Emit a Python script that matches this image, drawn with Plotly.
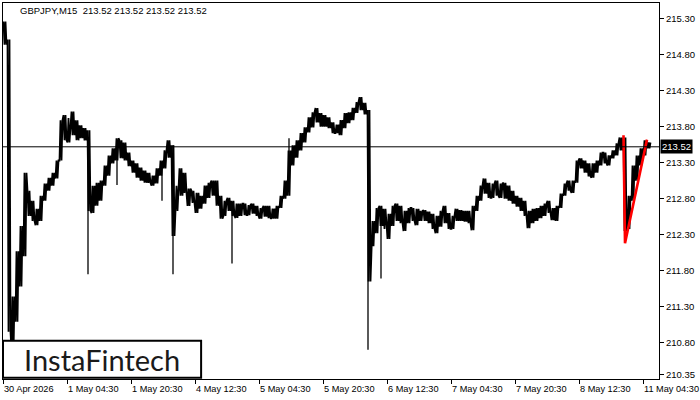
import plotly.graph_objects as go

# ---- data (hourly high/low envelope of GBPJPY M15 bars) ----
highs = [215.26, 215.01, 211.44, 212.07, 212.42, 213.16, 212.91, 212.77, 212.66, 212.84,
         213.01, 213.09, 213.16, 213.33, 213.89, 213.96, 213.92, 214.01, 213.89, 213.82,
         213.78, 213.75, 212.98, 213.02, 213.05, 213.26, 213.40, 213.50, 213.64, 213.61,
         213.58, 213.44, 213.33, 213.29, 213.23, 213.19, 213.16, 213.12, 213.22, 213.33,
         213.47, 213.61, 213.54, 212.98, 213.22, 213.16, 212.94, 212.91, 212.88, 212.84,
         212.98, 213.02, 213.05, 213.05, 212.84, 212.77, 212.81, 212.77, 212.73, 212.73,
         212.73, 212.71, 212.73, 212.70, 212.67, 212.70, 212.70, 212.66, 212.70, 212.84,
         213.05, 213.47, 213.54, 213.61, 213.71, 213.79, 213.93, 214.00, 214.06, 213.99,
         213.96, 213.93, 213.86, 213.83, 213.89, 213.99, 214.00, 214.06, 214.14, 214.21,
         214.13, 214.03, 212.49, 212.67, 212.70, 212.66, 212.59, 212.70, 212.73, 212.70,
         212.63, 212.67, 212.67, 212.66, 212.63, 212.64, 212.62, 212.59, 212.56, 212.63,
         212.70, 212.60, 212.56, 212.66, 212.64, 212.63, 212.63, 212.70, 212.84, 212.98,
         213.08, 213.02, 213.01, 213.05, 213.01, 213.02, 212.98, 212.91, 212.84, 212.81,
         212.77, 212.63, 212.66, 212.67, 212.70, 212.73, 212.77, 212.67, 212.70, 212.87,
         213.01, 213.05, 213.05, 213.33, 213.36, 213.33, 213.29, 213.29, 213.33, 213.44,
         213.44, 213.40, 213.47, 213.57, 213.65, 213.65, 212.84, 213.26, 213.40, 213.50,
         213.61, 213.58]
lows = [214.94, 210.95, 210.67, 211.09, 211.58, 212.00, 212.56, 212.49, 212.43, 212.49,
        212.77, 212.91, 212.98, 213.08, 213.33, 213.61, 213.58, 213.68, 213.61, 213.64,
        213.61, 212.63, 212.60, 212.70, 212.77, 212.98, 213.12, 213.29, 213.33, 213.36,
        213.33, 213.25, 213.16, 213.09, 213.05, 213.02, 213.02, 212.98, 213.01, 213.12,
        213.22, 213.37, 212.28, 212.63, 212.84, 212.88, 212.70, 212.74, 212.60, 212.66,
        212.73, 212.81, 212.84, 212.70, 212.52, 212.56, 212.63, 212.56, 212.53, 212.56,
        212.57, 212.57, 212.59, 212.56, 212.52, 212.55, 212.53, 212.52, 212.52, 212.67,
        212.80, 212.84, 213.26, 213.37, 213.47, 213.58, 213.72, 213.79, 213.86, 213.80,
        213.80, 213.78, 213.71, 213.71, 213.68, 213.78, 213.85, 213.89, 213.99, 214.03,
        213.97, 211.65, 212.14, 212.32, 212.42, 212.38, 212.24, 212.42, 212.49, 212.46,
        212.35, 212.46, 212.49, 212.43, 212.49, 212.49, 212.46, 212.38, 212.32, 212.41,
        212.46, 212.38, 212.38, 212.49, 212.49, 212.48, 212.46, 212.36, 212.63, 212.77,
        212.87, 212.81, 212.81, 212.84, 212.81, 212.80, 212.77, 212.73, 212.69, 212.63,
        212.56, 212.39, 212.46, 212.49, 212.53, 212.56, 212.60, 212.50, 212.49, 212.67,
        212.84, 212.91, 212.88, 213.02, 213.22, 213.16, 213.11, 213.09, 213.16, 213.26,
        213.29, 213.26, 213.36, 213.40, 213.47, 212.35, 212.38, 212.77, 213.05, 213.26,
        213.40, 213.50]

# long single-bar wicks (bar index, wick top, wick bottom)
spike_idx = [85, 114, 159, 170, 229, 286, 365, 378]
spike_top = [213.61, 213.47, 213.26, 213.54, 212.70, 213.64, 214.03, 212.63]
spike_bottom = [211.75, 212.99, 212.77, 211.75, 211.90, 213.26, 210.70, 211.69]

# red pattern (bar index, price)
pattern_idx = [620.5, 622, 644]
pattern_price = [213.68, 212.18, 213.62]

current_price = 213.52
symbol_text = "GBPJPY,M15  213.52 213.52 213.52 213.52"

y_ticks = [215.30, 214.80, 214.30, 213.80, 213.30, 212.80, 212.30, 211.80, 211.30, 210.80, 210.35]
x_tick_idx = [0, 64, 128, 192, 256, 320, 384, 448, 512, 576, 640]
x_tick_labels = ["30 Apr 2026", "1 May 04:30", "1 May 20:30", "4 May 12:30", "5 May 04:30",
                 "5 May 20:30", "6 May 12:30", "7 May 04:30", "7 May 20:30", "8 May 12:30",
                 "11 May 04:30"]

BARS_PER_SAMPLE = 4
FONT = "Liberation Sans"

fig = go.Figure()

# draw each hourly range as a zigzag stroke (mimics dense 1px OHLC bars)
zx, zy = [], []
n = len(highs)
for i in range(n):
    mid = (highs[i] + lows[i]) / 2
    nxt = (highs[i + 1] + lows[i + 1]) / 2 if i + 1 < n else mid
    first, second = (highs[i], lows[i]) if nxt < mid else (lows[i], highs[i])
    base = i * BARS_PER_SAMPLE
    zx += [base + 0.5, base + 1.5, base + 2.5, base + 3.5]
    zy += [first, second, first, second]
fig.add_trace(go.Scatter(x=zx, y=zy, mode="lines",
                         line=dict(color="black", width=1.8), hoverinfo="skip"))

sx, sy = [], []
for i, t, b in zip(spike_idx, spike_top, spike_bottom):
    sx += [i, i, None]
    sy += [t, b, None]
fig.add_trace(go.Scatter(x=sx, y=sy, mode="lines", line=dict(color="black", width=1.3),
                         hoverinfo="skip"))

fig.add_trace(go.Scatter(x=pattern_idx, y=pattern_price, mode="lines",
                         line=dict(color="#ff0000", width=2.6), hoverinfo="skip"))

fig.add_shape(type="line", xref="paper", x0=0, x1=1, yref="y", y0=current_price, y1=current_price,
              line=dict(color="black", width=1), layer="above")

# logo box
fig.add_shape(type="rect", xref="paper", yref="paper", x0=0.0, x1=0.302, y0=0.003, y1=0.102,
              fillcolor="white", line=dict(color="black", width=2), layer="above")
fig.add_annotation(xref="paper", yref="paper", x=0.151, y=0.052, text="InstaFintech",
                   showarrow=False, font=dict(family="Lato", size=29, color="#1a1a1a"),
                   xanchor="center", yanchor="middle")

fig.add_annotation(xref="paper", yref="paper", x=0.023, y=0.979, text=symbol_text,
                   showarrow=False, font=dict(family=FONT, size=9.5, color="black"),
                   xanchor="left", yanchor="middle")

fig.add_annotation(xref="paper", yref="y", x=1, y=current_price, text=f"{current_price:.2f}",
                   showarrow=False, xanchor="left", yanchor="middle", xshift=1,
                   bgcolor="black", font=dict(family=FONT, size=9.5, color="white"),
                   borderpad=1)

for xi, lab in zip(x_tick_idx, x_tick_labels):
    fig.add_annotation(xref="x", yref="paper", x=xi, y=0, text=lab, showarrow=False,
                       xanchor="left", yanchor="top", yshift=-4, borderpad=0,
                       font=dict(family=FONT, size=9.2, color="black"))

fig.update_layout(
    width=700, height=400, margin=dict(l=3, r=41, t=3, b=21),
    paper_bgcolor="white", plot_bgcolor="white", showlegend=False,
    xaxis=dict(range=[0, 656], showgrid=False, zeroline=False, showline=True, mirror=True,
               linecolor="black", linewidth=1, ticks="outside", ticklen=4, tickcolor="black",
               tickvals=x_tick_idx, showticklabels=False, fixedrange=True),
    yaxis=dict(side="right", range=[210.294, 215.518], showgrid=False, zeroline=False,
               showline=True, mirror=True, linecolor="black", linewidth=1,
               ticks="outside", ticklen=4, tickcolor="black",
               tickvals=y_ticks, ticktext=[f"{v:.2f}" for v in y_ticks],
               tickfont=dict(family=FONT, size=9.5, color="black"), fixedrange=True),
)

fig.write_html("out.html", config={"displayModeBar": False},
               post_script="document.body.style.margin='0';document.body.style.padding='0';")
